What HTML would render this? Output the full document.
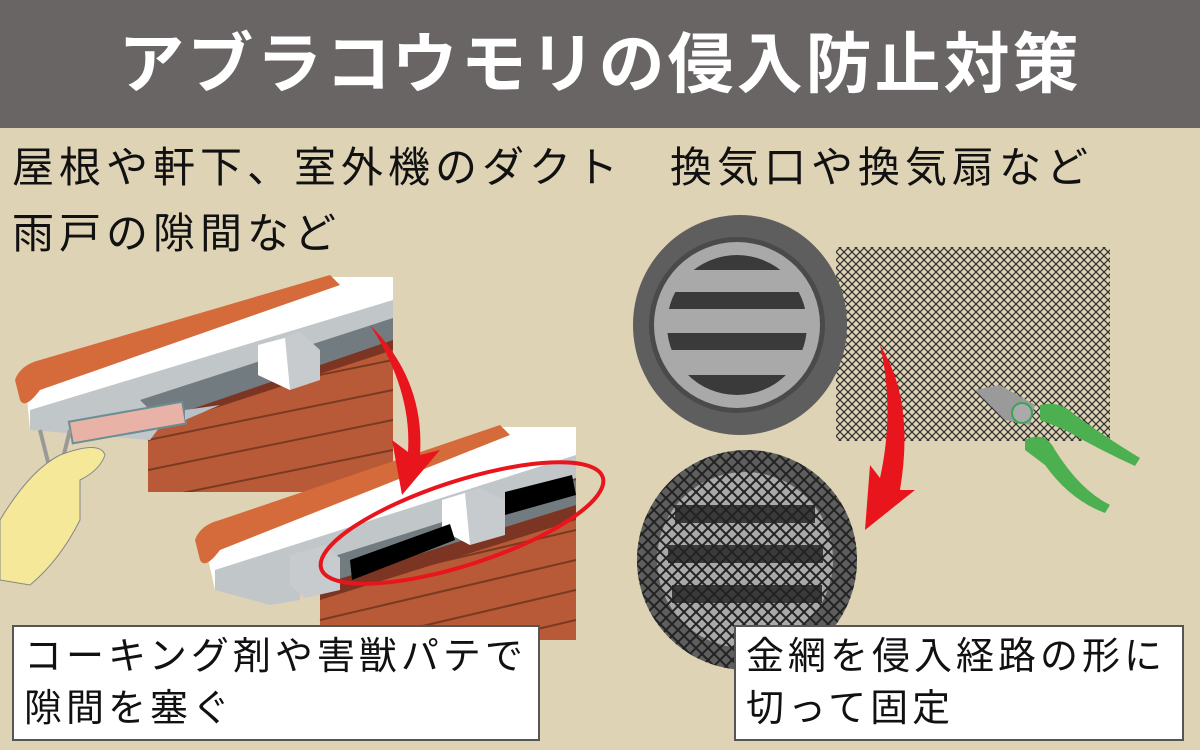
<!DOCTYPE html>
<html><head><meta charset="utf-8"><style>
body{margin:0;width:1200px;height:750px;overflow:hidden;background:#dfd3b6;font-family:"Liberation Sans","Noto Sans CJK JP",sans-serif;position:relative}
.hdr{position:absolute;left:0;top:0;width:1200px;height:128px;background:#686564;color:#fff;font-weight:bold;font-size:66px;text-align:center;line-height:128px;letter-spacing:3px}
.t{position:absolute;color:#111;font-size:42px;letter-spacing:5px;white-space:nowrap;line-height:1}
.box{position:absolute;background:#fff;border:2px solid #555;box-sizing:border-box;font-size:38px;letter-spacing:4px;line-height:52px;padding:4px 0 0 10px;color:#111;white-space:nowrap}
svg{position:absolute;left:0;top:0}
</style></head><body>
<div class="hdr">アブラコウモリの侵入防止対策</div>
<svg width="1200" height="750">
<defs>
<pattern id="m" width="8" height="8" patternUnits="userSpaceOnUse"><path d="M0 0L8 8M8 0L0 8" stroke="#333" stroke-width="1.3"/></pattern>
<pattern id="m2" width="12" height="12" patternUnits="userSpaceOnUse"><path d="M0 0L12 12M12 0L0 12" stroke="#222" stroke-width="2"/></pattern>
<clipPath id="c1"><rect x="148" y="277" width="245" height="215"/></clipPath>
<clipPath id="c2"><rect x="200" y="427" width="376" height="213"/></clipPath>
</defs>
<g>
<g clip-path="url(#c1)">
<rect x="148" y="330" width="245" height="162" fill="#b85a38"/>
<g stroke="#7a3a22" stroke-width="2">
<line x1="148" y1="380" x2="393" y2="330"/><line x1="148" y1="410" x2="393" y2="360"/><line x1="148" y1="440" x2="393" y2="390"/><line x1="148" y1="470" x2="393" y2="420"/><line x1="148" y1="500" x2="393" y2="450"/>
</g>
<polygon points="148,340 393,290 393,350 148,430" fill="#7c3522"/>
</g>
<polygon points="25,375 330,277 393,277 393,310 30,430" fill="#fff"/>
<polygon points="30,410 393,300 393,325 180,400 150,440 30,430" fill="#c1c6c9"/>
<polygon points="140,400 393,318 393,340 160,420" fill="#727c80"/>
<polygon points="258,345 300,332 320,350 320,380 290,390 258,375" fill="#c7cbcd"/>
<polygon points="258,345 285,338 290,390 258,375" fill="#fff"/>
<path d="M15,380 Q20,365 40,360 L330,275 L340,285 L40,390 Q25,410 20,400Z" fill="#d56b3b"/>
<rect x="70" y="412" width="115" height="22" fill="#e9b2a6" stroke="#6a8e95" stroke-width="2" transform="rotate(-10 125 423)"/>
<polygon points="185,410 220,405 185,420" fill="#b8c2c6"/>
<path d="M40,430 L50,470 M70,430 L60,470" stroke="#999" stroke-width="4"/>
<path d="M0,520 Q30,470 60,455 Q100,440 105,455 Q100,470 80,480 L80,520 Q60,560 30,585 L0,580Z" fill="#f5e898" stroke="#888" stroke-width="1"/>
</g>
<g>
<g clip-path="url(#c2)">
<rect x="320" y="470" width="256" height="170" fill="#b85a38"/>
<g stroke="#7a3a22" stroke-width="2">
<line x1="320" y1="560" x2="576" y2="500"/><line x1="320" y1="590" x2="576" y2="530"/><line x1="320" y1="620" x2="576" y2="560"/><line x1="320" y1="650" x2="576" y2="590"/><line x1="320" y1="680" x2="576" y2="620"/>
</g>
<polygon points="320,540 576,470 576,520 320,600" fill="#7c3522"/>
</g>
<polygon points="205,545 500,427 576,427 576,470 215,590" fill="#fff"/>
<polygon points="215,570 576,455 576,478 300,570 300,600 270,605 215,590" fill="#c1c6c9"/>
<polygon points="290,570 576,480 576,505 320,585" fill="#727c80"/>
<polygon points="442,500 480,488 505,500 505,535 470,545 442,530" fill="#c7cbcd"/>
<polygon points="442,500 465,493 470,545 442,530" fill="#fff"/>
<polygon points="290,555 325,545 340,558 340,590 305,598 290,585" fill="#c7cbcd"/>
<polygon points="350,560 450,524 455,540 352,580" fill="#000"/>
<polygon points="505,492 572,475 576,495 505,515" fill="#000"/>
<path d="M195,540 Q200,525 220,520 L500,425 L510,435 L220,550 Q205,570 200,560Z" fill="#d56b3b"/>
<ellipse cx="462" cy="523" rx="148" ry="42" transform="rotate(-18 462 523)" fill="none" stroke="#e8151c" stroke-width="4"/>
</g>
<path d="M370,325 Q425,380 420,455 L440,450 L402,495 L392,440 L408,452 Q412,390 370,325Z" fill="#e8151c"/>
<rect x="836" y="247" width="274" height="194" fill="url(#m)"/>
<ellipse cx="740" cy="325" rx="107" ry="110" fill="#5e5e5e"/>
<circle cx="737" cy="325" r="88" fill="#4a4a4a"/>
<circle cx="737" cy="325" r="83" fill="#a9a9a9"/>
<clipPath id="vc"><circle cx="737" cy="325" r="70"/></clipPath>
<g clip-path="url(#vc)" fill="#3a3a3a">
<rect x="660" y="250" width="160" height="20"/><rect x="660" y="292" width="160" height="17"/><rect x="660" y="333" width="160" height="17"/><rect x="660" y="375" width="160" height="30"/>
</g>
<g>
<ellipse cx="747" cy="560" rx="110" ry="110" fill="#5e5e5e"/>
<circle cx="745" cy="560" r="88" fill="#a9a9a9"/>
<g fill="#3a3a3a"><rect x="675" y="505" width="140" height="18"/><rect x="668" y="545" width="155" height="18"/><rect x="672" y="585" width="150" height="18"/></g>
<ellipse cx="747" cy="560" rx="110" ry="110" fill="url(#m2)"/>
</g>
<path d="M880,345 Q915,400 900,490 L915,490 L865,530 L870,465 L880,478 Q895,410 880,345Z" fill="#e8151c"/>
<path d="M975,390 L1000,385 L1035,405 L1030,425 L1005,420Z" fill="#9a9a9a"/>
<circle cx="1022" cy="413" r="10" fill="#aaa" stroke="#3aa655" stroke-width="2"/>
<path d="M1040,405 Q1060,400 1075,415 Q1110,440 1140,458 L1135,466 Q1100,450 1065,430 L1040,420Z" fill="#4caf50"/>
<path d="M1025,440 Q1045,430 1055,450 Q1080,490 1110,505 L1105,513 Q1070,500 1045,465 L1025,450Z" fill="#4caf50"/>
</svg>
<div class="t" style="left:12px;top:147px">屋根や軒下、室外機のダクト　換気口や換気扇など</div>
<div class="t" style="left:12px;top:213px">雨戸の隙間など</div>
<div class="box" style="left:12px;top:625px;width:528px;height:116px">コーキング剤や害獣パテで<br>隙間を塞ぐ</div>
<div class="box" style="left:734px;top:625px;width:450px;height:116px">金網を侵入経路の形に<br>切って固定</div>
</body></html>
